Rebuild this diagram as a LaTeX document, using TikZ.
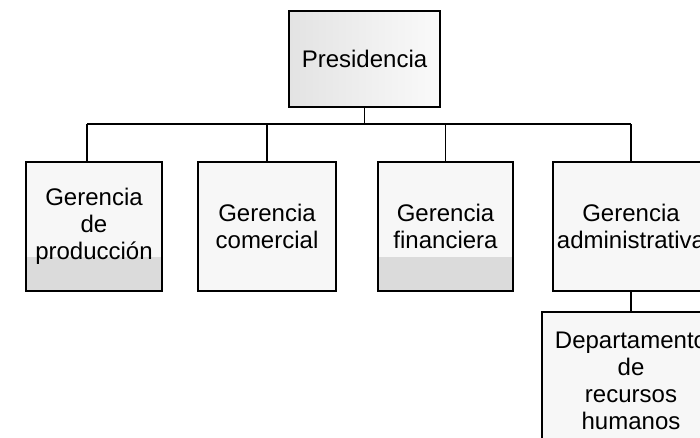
\documentclass[tikz,border=0pt]{standalone}
\usepackage{fontspec}
\setmainfont{Liberation Sans}
\begin{document}
\begin{tikzpicture}[x=1pt,y=-1pt,
  orgbox/.style={draw=black, line width=1.7pt, fill=gray!6, align=center,
    inner sep=0pt, font=\fontsize{24}{27}\selectfont, text=black},
  lowgray/.style={path picture={\fill[gray!28] ([yshift=34pt]path picture bounding box.south west) rectangle (path picture bounding box.south east);}},
  link/.style={draw=black, line width=1.3pt}]
\useasboundingbox (0,0) rectangle (700,437);
\clip (0,0) rectangle (700,437);
\fill[white] (0,0) rectangle (700,437);
\node[orgbox, minimum width=151pt, minimum height=96pt, left color=gray!22, right color=gray!4] (pres) at (364.5,59) {Presidencia};
\node[orgbox, lowgray, minimum width=136pt, minimum height=129pt] (prod) at (94,226.5) {Gerencia\\de\\producción};
\node[orgbox, minimum width=138pt, minimum height=129pt] (com) at (267,226.5) {Gerencia\\comercial};
\node[orgbox, lowgray, minimum width=135pt, minimum height=129pt] (fin) at (445.5,226.5) {Gerencia\\financiera};
\node[orgbox, minimum width=156pt, minimum height=129pt] (adm) at (631,226.5) {Gerencia\\administrativa};
\node[orgbox, minimum width=178pt, minimum height=138pt] (dep) at (631,381) {Departamento\\de\\recursos\\humanos};
\coordinate (busL) at (87,124);
\coordinate (busR) at (631,124);
\draw[link] (busL) -- (busR);
\draw[link] (pres.south) -- (pres.south |- busL);
\draw[link] (busL) -- (busL |- prod.north);
\draw[link] (com.north |- busL) -- (com.north);
\draw[link] (fin.north |- busL) -- (fin.north);
\draw[link] (busR) -- (adm.north);
\draw[link] (adm.south) -- (dep.north);
\end{tikzpicture}
\end{document}
